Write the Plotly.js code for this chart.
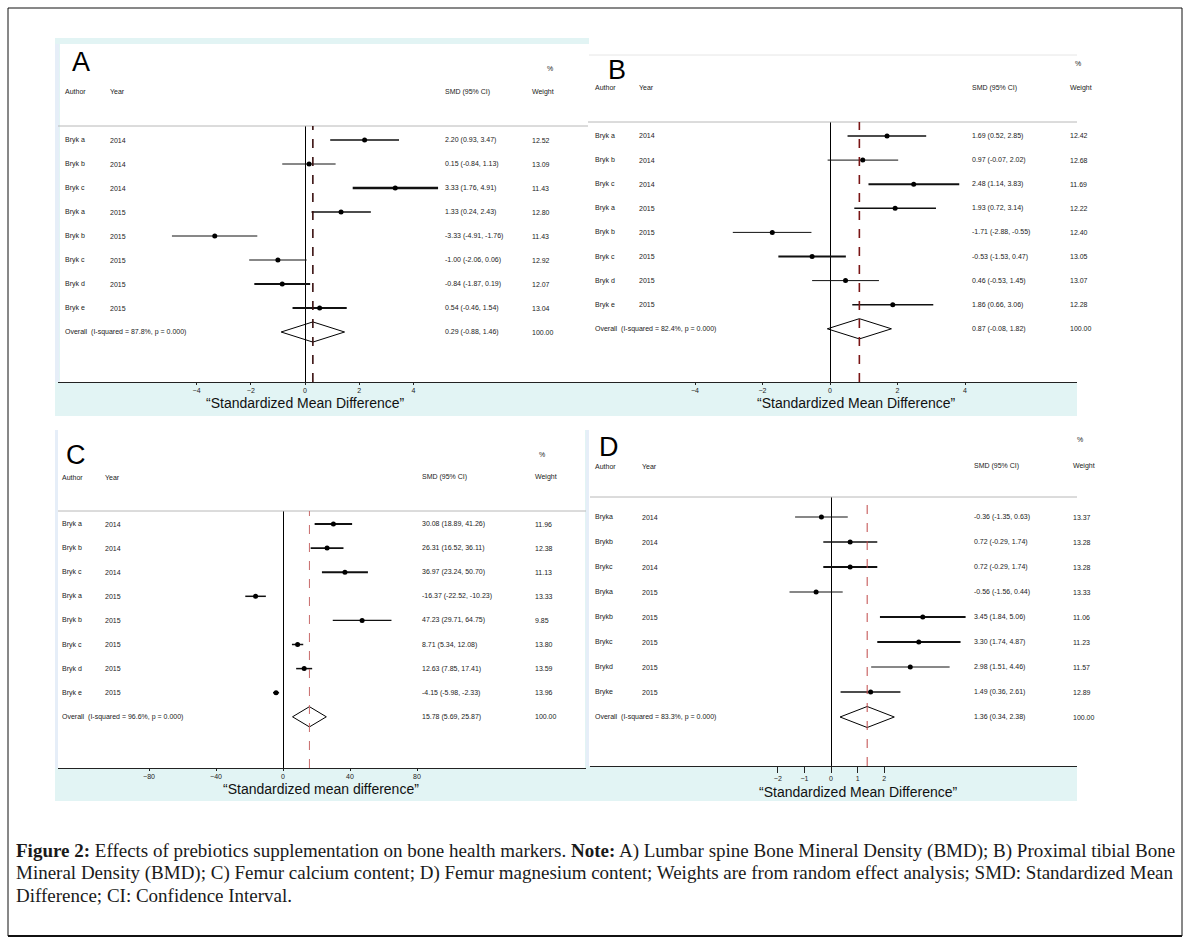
<!DOCTYPE html>
<html><head><meta charset="utf-8">
<script src="https://cdn.plot.ly/plotly-3.0.1.min.js"></script>
<style>html,body{margin:0;padding:0;background:#fff}#chart{width:1190px;height:943px}</style>
</head><body><div id="chart"></div>
<script>
// ---------------- DATA ----------------
const authorsABC = ["Bryk a","Bryk b","Bryk c","Bryk a","Bryk b","Bryk c","Bryk d","Bryk e"];
const authorsD   = ["Bryka","Brykb","Brykc","Bryka","Brykb","Brykc","Brykd","Bryke"];
const years      = ["2014","2014","2014","2015","2015","2015","2015","2015"];

const smdA = [2.20, 0.15, 3.33, 1.33, -3.33, -1.00, -0.84, 0.54];
const loA  = [0.93, -0.84, 1.76, 0.24, -4.91, -2.06, -1.87, -0.46];
const hiA  = [3.47, 1.13, 4.91, 2.43, -1.76, 0.06, 0.19, 1.54];
const wtA  = [12.52, 13.09, 11.43, 12.80, 11.43, 12.92, 12.07, 13.04];
const overallA = [0.29, -0.88, 1.46];
const hetA = "I-squared = 87.8%, p = 0.000";

const smdB = [1.69, 0.97, 2.48, 1.93, -1.71, -0.53, 0.46, 1.86];
const loB  = [0.52, -0.07, 1.14, 0.72, -2.88, -1.53, -0.53, 0.66];
const hiB  = [2.85, 2.02, 3.83, 3.14, -0.55, 0.47, 1.45, 3.06];
const wtB  = [12.42, 12.68, 11.69, 12.22, 12.40, 13.05, 13.07, 12.28];
const overallB = [0.87, -0.08, 1.82];
const hetB = "I-squared = 82.4%, p = 0.000";

const smdC = [30.08, 26.31, 36.97, -16.37, 47.23, 8.71, 12.63, -4.15];
const loC  = [18.89, 16.52, 23.24, -22.52, 29.71, 5.34, 7.85, -5.98];
const hiC  = [41.26, 36.11, 50.70, -10.23, 64.75, 12.08, 17.41, -2.33];
const wtC  = [11.96, 12.38, 11.13, 13.33, 9.85, 13.80, 13.59, 13.96];
const overallC = [15.78, 5.69, 25.87];
const hetC = "I-squared = 96.6%, p = 0.000";

const smdD = [-0.36, 0.72, 0.72, -0.56, 3.45, 3.30, 2.98, 1.49];
const loD  = [-1.35, -0.29, -0.29, -1.56, 1.84, 1.74, 1.51, 0.36];
const hiD  = [0.63, 1.74, 1.74, 0.44, 5.06, 4.87, 4.46, 2.61];
const wtD  = [13.37, 13.28, 13.28, 13.33, 11.06, 11.23, 11.57, 12.89];
const overallD = [1.36, 0.34, 2.38];
const hetD = "I-squared = 83.3%, p = 0.000";

const ticksAB = [-4, -2, 0, 2, 4];
const ticksC  = [-80, -40, 0, 40, 80];
const ticksD  = [-2, -1, 0, 1, 2];
const letters = ["A", "B", "C", "D"];
const axisTitles = ["\u201cStandardized Mean Difference\u201d", "\u201cStandardized Mean Difference\u201d",
                    "\u201cStandardized mean difference\u201d", "\u201cStandardized Mean Difference\u201d"];
const captionLines = [
  "<b>Figure 2:</b> Effects of prebiotics supplementation on bone health markers. <b>Note:</b> A) Lumbar spine Bone Mineral Density (BMD); B) Proximal tibial Bone",
  "Mineral Density (BMD); C) Femur calcium content; D) Femur magnesium content; Weights are from random effect analysis; SMD: Standardized Mean",
  "Difference; CI: Confidence Interval."
];

// ---------------- STYLE / LAYOUT (pixels) ----------------
const W = 1190, H = 943;
const fx = px => px / W;
const fy = py => 1 - py / H;

const panels = [
  {authors: authorsABC, smd: smdA, lo: loA, hi: hiA, wt: wtA, ov: overallA, het: hetA, ticks: ticksAB,
   lw: [1.5, 1, 2.5, 1.5, 1, 1.2, 1.8, 2], dash: "#3a1010", dashW: 1.6,
   left: 58, right: 588, zero: 305, unit: 27.1, top: 126, bottom: 382, row1: 140, step: 24,
   authorX: 63, yearX: 108, smdX: 443, wtX: 530, headerY: 92, pctX: 545, pctY: 69,
   letterX: 70, letterY: 62, titleX: 305, titleY: 403, ticklen: 2},
  {authors: authorsABC, smd: smdB, lo: loB, hi: hiB, wt: wtB, ov: overallB, het: hetB, ticks: ticksAB,
   lw: [1.5, 1, 2, 1.5, 1, 2.2, 1, 1.5], dash: "#7a1515", dashW: 1.6,
   left: 588, right: 1077, zero: 830, unit: 33.75, top: 122, bottom: 382, row1: 136, step: 24.1,
   authorX: 593, yearX: 637, smdX: 970, wtX: 1068, headerY: 88, pctX: 1073, pctY: 64,
   letterX: 606, letterY: 70, titleX: 856, titleY: 403, ticklen: 2},
  {authors: authorsABC, smd: smdC, lo: loC, hi: hiC, wt: wtC, ov: overallC, het: hetC, ticks: ticksC,
   lw: [1.8, 1.8, 2, 1.5, 1.2, 1.5, 1.5, 1.5], dash: "#c86a6a", dashW: 1,
   left: 58, right: 586, zero: 283, unit: 1.675, top: 511, bottom: 768, row1: 524, step: 24.1,
   authorX: 60, yearX: 103, smdX: 420, wtX: 533, headerY: 477, pctX: 537, pctY: 455,
   letterX: 64, letterY: 455, titleX: 321, titleY: 789, ticklen: 2},
  {authors: authorsD, smd: smdD, lo: loD, hi: hiD, wt: wtD, ov: overallD, het: hetD, ticks: ticksD,
   lw: [1.2, 1.5, 2, 1.2, 1.8, 1.8, 1, 1.5], dash: "#c04848", dashW: 1,
   left: 590, right: 1077, zero: 831, unit: 26.6, top: 497, bottom: 766, row1: 517, step: 25,
   authorX: 593, yearX: 640, smdX: 972, wtX: 1071, headerY: 466, pctX: 1075, pctY: 440,
   letterX: 597, letterY: 447, titleX: 858, titleY: 792, ticklen: 6}
];

const smallFont = {family: "Liberation Sans, Arial, sans-serif", size: 7, color: "#222"};
const traces = [];
const annotations = [];
const shapes = [];
const layout = {
  width: W, height: H, margin: {l: 0, r: 0, t: 0, b: 0},
  paper_bgcolor: "#fff", plot_bgcolor: "rgba(0,0,0,0)", showlegend: false,
  annotations: annotations, shapes: shapes
};

const cyan = "#e2f4f4";
// backgrounds
const rect = (x0, y0, x1, y1, fill) => shapes.push({type: "rect", xref: "paper", yref: "paper", layer: "below",
  x0: fx(x0), x1: fx(x1), y0: fy(y0), y1: fy(y1), fillcolor: fill, line: {width: 0}});
// panel A
rect(55, 38, 589, 416, cyan);
rect(60, 44, 589, 382, "#ffffff");
rect(55, 44, 59, 382, "#e6eef8");
// panel B
rect(589, 382, 1077, 416, cyan);
shapes.push({type: "line", xref: "paper", yref: "paper", layer: "below", x0: fx(589), x1: fx(1077), y0: fy(55), y1: fy(55), line: {color: "#e6e6e6", width: 1}});
// panel C
rect(55, 768, 589, 801, cyan);
rect(55, 430, 58, 768, "#e6eef8");
rect(585, 430, 589, 768, cyan);
// panel D
rect(589, 766, 1077, 801, cyan);
rect(586, 430, 589, 766, "#e6eef8");
// outer frame
shapes.push({type: "rect", xref: "paper", yref: "paper", x0: fx(8), x1: fx(1182), y0: fy(8), y1: fy(936), line: {color: "#111", width: 1}});
shapes.push({type: "line", xref: "paper", yref: "paper", x0: fx(8), x1: fx(1182), y0: fy(936), y1: fy(936), line: {color: "#111", width: 2}});

panels.forEach((p, i) => {
  const n = i === 0 ? "" : String(i + 1);
  const xa = "x" + n, ya = "y" + n;
  const rowAt = py => 1 + (py - p.row1) / p.step;
  layout["xaxis" + n] = {
    domain: [fx(p.left), fx(p.right)], range: [(p.left - p.zero) / p.unit, (p.right - p.zero) / p.unit],
    anchor: ya, showgrid: false, zeroline: true, zerolinecolor: "#000", zerolinewidth: 1,
    showline: true, linecolor: "#222", linewidth: 1, tickmode: "array", tickvals: p.ticks,
    ticks: "outside", ticklen: p.ticklen, tickcolor: "#222", tickwidth: 1,
    tickfont: {family: "Liberation Sans, Arial, sans-serif", size: 7, color: "#222"}, fixedrange: true
  };
  layout["yaxis" + n] = {
    domain: [fy(p.bottom), fy(p.top)], range: [rowAt(p.bottom), rowAt(p.top)],
    anchor: xa, visible: false, showgrid: false, zeroline: false, fixedrange: true
  };
  // top gray rule
  shapes.push({type: "line", xref: "paper", yref: "paper", x0: fx(p.left), x1: fx(p.right), y0: fy(p.top), y1: fy(p.top),
    line: {color: "#b8b8b8", width: 1}});
  // overall dashed line
  shapes.push({type: "line", xref: xa, yref: ya + " domain", x0: p.ov[0], x1: p.ov[0], y0: 0, y1: 1,
    line: {color: p.dash, width: p.dashW, dash: "dash"}});

  const rows = p.smd.map((_, k) => k + 1);
  p.smd.forEach((v, k) => {
    traces.push({type: "scatter", mode: "lines", xaxis: xa, yaxis: ya, x: [p.lo[k], p.hi[k]], y: [k + 1, k + 1],
      line: {color: "#111", width: p.lw[k]}, hoverinfo: "skip"});
  });
  traces.push({type: "scatter", mode: "markers", xaxis: xa, yaxis: ya, x: p.smd, y: rows,
    marker: {color: "#000", size: 5, symbol: "circle"}, hoverinfo: "skip"});
  const ovRow = p.smd.length + 1;
  const dh = 0.42;
  traces.push({type: "scatter", mode: "lines", xaxis: xa, yaxis: ya,
    x: [p.ov[1], p.ov[0], p.ov[2], p.ov[0], p.ov[1]], y: [ovRow, ovRow - dh, ovRow, ovRow + dh, ovRow],
    fill: "toself", fillcolor: "rgba(255,255,255,0)", line: {color: "#000", width: 1}, hoverinfo: "skip"});

  const txt = (x, y, yref, text, extra) => annotations.push(Object.assign({
    xref: "paper", yref: yref, x: fx(x), y: y, text: text, showarrow: false,
    xanchor: "left", yanchor: "middle", font: smallFont}, extra || {}));

  // headers
  txt(p.authorX, fy(p.headerY), "paper", "Author");
  txt(p.yearX, fy(p.headerY), "paper", "Year");
  txt(p.smdX, fy(p.headerY), "paper", "SMD (95% CI)");
  txt(p.wtX, fy(p.headerY), "paper", "Weight");
  txt(p.pctX, fy(p.pctY), "paper", "%");
  // rows
  p.smd.forEach((v, k) => {
    txt(p.authorX, k + 1, ya, p.authors[k]);
    txt(p.yearX, k + 1, ya, years[k]);
    txt(p.smdX, k + 1, ya, v.toFixed(2) + " (" + p.lo[k].toFixed(2) + ", " + p.hi[k].toFixed(2) + ")");
    txt(p.wtX, k + 1, ya, p.wt[k].toFixed(2));
  });
  txt(p.authorX, ovRow, ya, "Overall  (" + p.het + ")");
  txt(p.smdX, ovRow, ya, p.ov[0].toFixed(2) + " (" + p.ov[1].toFixed(2) + ", " + p.ov[2].toFixed(2) + ")");
  txt(p.wtX, ovRow, ya, (100).toFixed(2));
  // letter
  txt(p.letterX, fy(p.letterY), "paper", letters[i], {font: {family: "Liberation Sans, Arial, sans-serif", size: 27, color: "#000"}});
  // axis title
  txt(p.titleX, fy(p.titleY), "paper", axisTitles[i], {xanchor: "center",
    font: {family: "Liberation Sans, Arial, sans-serif", size: 14, color: "#111"}});
});

// caption
captionLines.forEach((t, k) => annotations.push({xref: "paper", yref: "paper", x: fx(14), y: fy(851 + k * 22),
  text: t, showarrow: false, xanchor: "left", yanchor: "middle",
  font: {family: "Liberation Serif, Times New Roman, serif", size: 19, color: "#1a1a1a"}}));

Plotly.newPlot("chart", traces, layout, {displayModeBar: false, staticPlot: true});
</script>
</body></html>
